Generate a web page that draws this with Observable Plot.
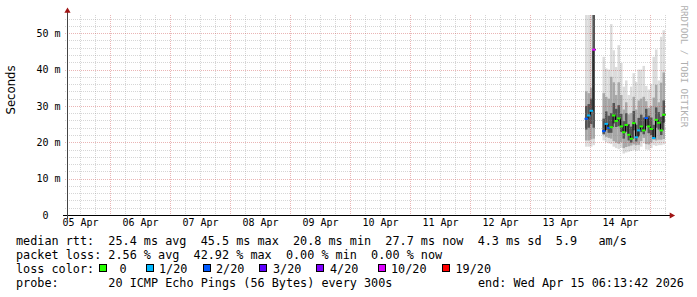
<!DOCTYPE html>
<html><head><meta charset="utf-8">
<script src="https://cdn.jsdelivr.net/npm/d3@7"></script>
<script src="https://cdn.jsdelivr.net/npm/@observablehq/plot@0.6"></script>
<style>
html,body{margin:0;padding:0;background:#fff;}
#wrap{width:697px;height:297px;position:relative;overflow:hidden;background:#fff;}
#chart svg{display:block;}
#legend{position:relative;width:697px;height:64px;font-family:"DejaVu Sans Mono",monospace;font-size:11.8px;color:#000;}
#legend .ln{position:absolute;white-space:pre;line-height:14px;height:14px;}
#legend .box{position:absolute;width:6px;height:6px;border:1px solid #000;}
</style></head>
<body><div id="wrap"><div id="chart"></div><div id="legend"></div></div>
<script>
// ---- data (hours relative to 14 Apr 2026 00:00 UTC, hourly bins) ----
const binHours = [-2,-1,0,1, 5,6,7,8,9,10,11,12,13,14,15,16,17,18,19,20,21,22,23,24,25,26,27,28,29];
const medianMs = [26.6,27.5,28.8,45.6, 23.2,25.2,24.1,24.3,27.5,26.0,26.7,24.5,22.9,24.9,22.2,21.1,25.4,21.5,23.4,24.5,23.4,26.8,24.5,23.8,21.3,26.3,25.5,23.4,27.7];
const lostPings = [2,1,1,10, 2,1,2,0,0,0,0,0,0,0,0,0,0,1,1,0,0,2,0,0,1,0,0,0,0];
const minMs = [18.8,18.8,18.8,19.2, 20.5,20.0,19.7,19.5,18.8,18.4,18.1,18.5,16.9,17.2,17.4,17.6,17.9,17.7,17.8,18.8,19.7,18.0,17.9,18.4,19.2,19.0,19.2,19.2,19.4];
const maxMs = [56,56,56,56, 43.5,40.3,40.0,52.5,45.3,40.7,46.7,41.8,35.3,37.0,33.0,35.3,39.0,36.6,40.0,40.0,41.0,35.5,34.5,36.0,43.5,45.5,37.0,49.0,50.8];
const p10Ms = [20.5,20.5,20.8,21.0, 22.0,21.5,21.2,21.0,20.3,19.9,19.6,20.0,18.4,18.7,18.9,19.1,19.4,19.2,19.3,20.3,21.2,19.5,19.4,19.9,20.7,20.5,20.7,20.7,20.9];
const p90Ms = [34.0,33.5,35.0,56, 33.5,32.5,32.0,38.0,36.5,33.0,36.5,33.0,29.0,31.0,27.7,28.0,32.5,29.0,31.5,32.0,32.5,31.3,29.5,30.0,32.3,35.8,31.0,36.4,39.2];
const p25Ms = [23.5,24.0,25.0,24.0, 22.3,23.4,22.6,22.6,25.2,24.2,24.4,22.8,21.0,22.9,20.5,19.9,23.3,20.2,21.7,22.8,22.2,24.5,22.5,22.0,20.9,24.0,23.5,22.0,25.4];
const p75Ms = [30.0,30.5,32.0,56, 26.5,28.5,27.3,28.0,30.8,29.2,30.2,27.8,25.8,28.0,25.0,24.3,28.6,24.8,26.7,27.6,26.8,29.2,27.3,26.8,24.8,29.6,28.3,27.0,31.5];

const lossLevels = [0,1,2,3,4,10,19];
const lossColors = ["#26ff00","#00b8ff","#0059ff","#5e00ff","#7e00ff","#dd00ff","#ff0000"];
const lossLabels = ["0","1/20","2/20","3/20","4/20","10/20","19/20"];

const yTicks = [0,10,20,30,40,50];
const yTickLabels = ["0\u00a0\u00a0","10 m","20 m","30 m","40 m","50 m"];
const dayLabels = ["05 Apr","06 Apr","07 Apr","08 Apr","09 Apr","10 Apr","11 Apr","12 Apr","13 Apr","14 Apr"];

const rttStats = ["25.4 ms avg","45.5 ms max","20.8 ms min","27.7 ms now","4.3 ms sd","5.9   am/s"];
const lossStats = ["2.56 % avg","42.92 % max","0.00 % min","0.00 % now"];
const probeText = "20 ICMP Echo Pings (56 Bytes) every 300s";
const endText = "end: Wed Apr 15 06:13:42 2026";

// ---- build ----
const xStart = new Date(Date.UTC(2026,3,5,6,48));
const xEnd = new Date(Date.UTC(2026,3,15,6,48));
const base = Date.UTC(2026,3,14);
const at = h => new Date(base + h*3600e3);
const colorOf = n => { let c = lossColors[0]; lossLevels.forEach((l,i)=>{ if (n >= l) c = lossColors[i]; }); return c; };

const bins = binHours.map((h,i)=>({t0:at(h), t1:at(h+1), med:medianMs[i], lost:lostPings[i],
  lo:minMs[i], hi:maxMs[i], p10:p10Ms[i], p90:p90Ms[i], p25:p25Ms[i], p75:p75Ms[i]}));
let seg = 0;
bins.forEach((b,i)=>{ if (i>0 && binHours[i]-binHours[i-1]>1) seg++; b.seg = seg; b.color = colorOf(b.lost); });
const medPts = bins.flatMap(b=>[{t:b.t0,v:b.med,seg:b.seg},{t:b.t1,v:b.med,seg:b.seg}]);

const minorX = d3.utcHour.every(6).range(xStart, xEnd).filter(d=>d.getUTCHours()!==0);
const majorX = d3.utcDay.range(xStart, xEnd);
const labelX = dayLabels.map((d,i)=>new Date(Date.UTC(2026,3,5+i,12)));
const minorY = d3.range(2,55,2).filter(v=>v%10!==0);
const majorY = yTicks.filter(v=>v>0);

const gridMinor = {stroke:"#8c8c8c", strokeOpacity:0.36, strokeDasharray:"1,1", shapeRendering:"crispEdges"};
const gridMajor = {stroke:"#c83c3c", strokeOpacity:0.38, strokeDasharray:"1,1", shapeRendering:"crispEdges"};

const chart = Plot.plot({
  width:697, height:233,
  marginLeft:67, marginRight:30, marginTop:15, marginBottom:18,
  x:{type:"utc", domain:[xStart,xEnd], axis:null},
  y:{domain:[0,55], axis:null},
  style:{fontFamily:"DejaVu Sans Mono", fontSize:"10px", color:"#000", background:"#fff"},
  marks:[
    Plot.rect(bins,{x1:"t0",x2:"t1",y1:"lo",y2:"hi",fill:"#dcdcdc",clip:true}),
    Plot.rect(bins,{x1:"t0",x2:"t1",y1:"p10",y2:"p90",fill:"#a8a8a8",clip:true}),
    Plot.rect(bins,{x1:"t0",x2:"t1",y1:"p25",y2:"p75",fill:"#555555",clip:true}),
    Plot.ruleX(minorX,{...gridMinor, insetBottom:-2}),
    Plot.ruleX(majorX,{...gridMajor, insetBottom:-2}),
    Plot.ruleY(minorY,{...gridMinor, insetLeft:-2}),
    Plot.ruleY(majorY,{...gridMajor, insetLeft:-2}),
    Plot.line(medPts,{x:"t",y:"v",z:"seg",stroke:"#000",strokeWidth:1}),
    Plot.ruleY(bins,{x1:"t0",x2:"t1",y:"med",stroke:"color",strokeWidth:2,insetLeft:-0.5,insetRight:-0.5}),
    Plot.ruleY([0],{stroke:"#000",insetLeft:-4,insetRight:-3}),
    Plot.ruleX([xStart],{stroke:"#444",insetTop:-3,insetBottom:-4}),
    Plot.dot([0],{frameAnchor:"top-left",dy:-4.5,symbol:"triangle",r:2.3,fill:"#a01414",stroke:"none"}),
    Plot.dot([0],{frameAnchor:"bottom-right",dx:4,symbol:"triangle",rotate:90,r:2.3,fill:"#a01414",stroke:"none"}),
    Plot.text(dayLabels,{x:(d,i)=>labelX[i],text:d=>d,frameAnchor:"bottom",dy:10,fill:"#000",fontSize:10}),
    Plot.text(yTicks,{y:d=>d,text:(d,i)=>yTickLabels[i],frameAnchor:"left",dx:-7,textAnchor:"end",fill:"#000",fontSize:10}),
    Plot.text(["Seconds"],{text:d=>d,frameAnchor:"left",dx:-56,dy:-1,rotate:-90,fontFamily:"DejaVu Sans",fontSize:11.7,fill:"#000"}),
    Plot.text(["RRDTOOL / TOBI OETIKER"],{text:d=>d,frameAnchor:"top-right",dx:20.5,dy:-10,rotate:90,textAnchor:"start",fontSize:9.2,fill:"#b0b0b0"})
  ]
});
document.getElementById("chart").appendChild(chart);

// ---- legend text below the SVG ----
const legend = document.getElementById("legend");
function line(text, left, top){ const d=document.createElement("div"); d.className="ln"; d.style.left=left+"px"; d.style.top=top+"px"; d.textContent=text; legend.appendChild(d); }
line("median rtt:  " + rttStats.join("  "), 16, 1);
line("packet loss: " + lossStats.join("  "), 16, 15);
line("loss color:", 16, 29);
const boxX = [99,146,203,259,316,378,442];
const labX = [119.5,159,216,273,330,391,455.5];
lossLabels.forEach((lab,i)=>{
  const b=document.createElement("div"); b.className="box"; b.style.left=boxX[i]+"px"; b.style.top="31px"; b.style.background=lossColors[i]; legend.appendChild(b);
  line(lab, labX[i], 29);
});
line("probe:       " + probeText, 16, 43);
line(endText, 478, 43);
</script></body></html>
